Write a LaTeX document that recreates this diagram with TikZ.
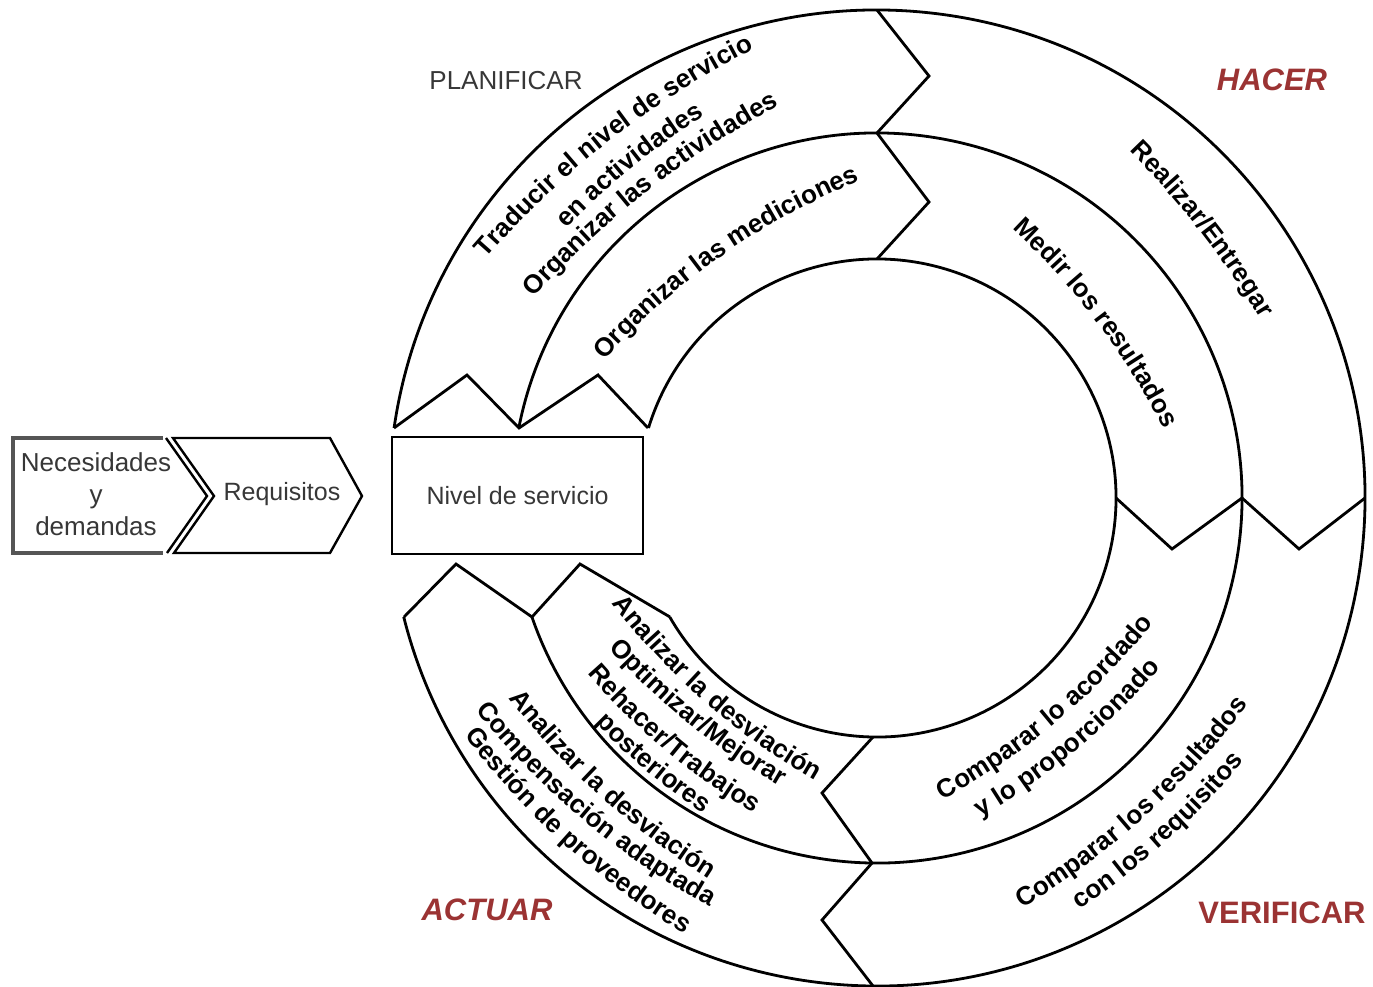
\documentclass[tikz,border=0pt]{standalone}
\usepackage{fontspec}
\setmainfont{Liberation Sans}
\usetikzlibrary{calc,decorations.text}
\definecolor{redlab}{RGB}{155,51,51}
\definecolor{graytxt}{RGB}{55,55,55}
\definecolor{boxgray}{RGB}{85,85,85}
\newcommand\bt{\fontsize{26}{28}\selectfont\bfseries}
% text on an arc bulging outward (tops outward), centre of baseline at (#1,#2) image coords
\newcommand\ttop[5]{%
  \pgfmathsetmacro\myTb{200/#4*57.29578}%
  \pgfmathsetmacro\mySa{#3+90+\myTb}%
  \pgfmathsetmacro\myEa{#3+90-\myTb}%
  \path[decorate,decoration={text along path,text align=center,text={|\bt|#5}}]
    ($(#1,-#2)+({#3-90}:#4)+(\mySa:#4)$) arc[start angle=\mySa, end angle=\myEa, radius=#4];}
% text on an arc with tops inward
\newcommand\tbot[5]{%
  \pgfmathsetmacro\myTb{200/#4*57.29578}%
  \pgfmathsetmacro\mySa{#3-90-\myTb}%
  \pgfmathsetmacro\myEa{#3-90+\myTb}%
  \path[decorate,decoration={text along path,text align=center,text={|\bt|#5}}]
    ($(#1,-#2)+({#3+90}:#4)+(\mySa:#4)$) arc[start angle=\mySa, end angle=\myEa, radius=#4];}
\begin{document}
\begin{tikzpicture}[x=1pt,y=1pt,
  ring/.style={line width=2.8pt, line join=miter},
  lbl/.style={font=\fontsize{26}{28}\selectfont, text=graytxt},
  phase/.style={anchor=base, font=\fontsize{31}{34}\selectfont\bfseries, text=redlab}]
\useasboundingbox (0,0) rectangle (1373,-987);
\fill[white] (0,0) rectangle (1373,-987);
\coordinate (C) at (877,-498);
% concentric arcs
\draw[ring] ($(C)+(171.75:488)$) arc[start angle=171.75, end angle=-165.89, radius=488];
\draw[ring] ($(C)+(168.94:365)$) arc[start angle=168.94, end angle=-160.97, radius=365];
\draw[ring] ($(C)+(162.97:239)$) arc[start angle=162.97, end angle=-150.14, radius=239];
% chevrons
\draw[ring] (877,-10) -- (929,-76) -- (877,-133) -- (929,-202) -- (877,-259);
\draw[ring] (1365,-498) -- (1299,-549) -- (1242,-498) -- (1172,-549) -- (1116,-498);
\draw[ring] (873,-986) -- (822,-920) -- (872,-863) -- (822,-793) -- (873,-737);
\draw[ring] (394,-428) -- (467,-375) -- (519,-428) -- (598,-375) -- (648,-428);
\draw[ring] (404,-617) -- (456,-564) -- (532,-617) -- (580,-564) -- (670,-617);
% left boxes
\draw[line width=2.4pt, line join=miter] (173,-438) -- (330,-438) -- (362,-496) -- (330,-553) -- (174,-553) -- (214,-496) -- cycle;
\draw[line width=2.4pt, line join=miter] (166,-438) -- (207,-496) -- (167,-553);
\draw[line width=3.8pt, draw=boxgray] (163,-438) -- (13,-438) -- (13,-553) -- (163,-553);
\node[lbl, align=center, font=\fontsize{26}{32}\selectfont] (nec) at (96,-494) {Necesidades\\y\\demandas};
\node[lbl, font=\fontsize{25}{28}\selectfont] (req) at (282,-494) {Requisitos};
\node[draw, line width=2.8pt, minimum width=251pt, minimum height=117pt, inner sep=0pt,
  lbl, font=\fontsize{25}{28}\selectfont] (nivel) at (517.5,-495.5) {Nivel de servicio};
% phase labels
\node[lbl, anchor=base] (plan) at (506,-90) {PLANIFICAR};
\node[phase, font=\fontsize{31}{34}\selectfont\bfseries\itshape] (hacer) at (1272,-91) {HACER};
\node[phase, font=\fontsize{31}{34}\selectfont\bfseries\itshape] (actuar) at (487,-920) {ACTUAR};
\node[phase] (verif) at (1282,-923) {VERIFICAR};
% curved texts
\ttop{610}{141}{38}{900}{Traducir el nivel de servicio}
\ttop{632}{168}{39}{700}{en actividades}
\ttop{648}{191}{38}{900}{Organizar las actividades}
\ttop{1200}{231}{-52}{900}{Realizar/Entregar}
\ttop{1097}{322}{-53}{700}{Medir los resultados}
\ttop{722}{256}{35}{700}{Organizar las mediciones}
\tbot{1057}{722}{40}{700}{Comparar lo acordado}
\tbot{1077}{750}{40}{700}{y lo proporcionado}
\tbot{1145}{817}{42}{800}{Comparar los resultados}
\tbot{1167}{841}{42}{800}{con los requisitos}
\tbot{705}{702}{-41}{700}{Analizar la desviación}
\tbot{689}{724}{-39}{700}{Optimizar/Mejorar}
\tbot{665}{750}{-40}{700}{Rehacer/Trabajos}
\tbot{647}{771}{-40}{700}{posteriores}
\tbot{601}{797}{-42}{800}{Analizar la desviación}
\tbot{583}{820}{-40}{800}{Compensación adaptada}
\tbot{565}{845}{-42}{800}{Gestión de proveedores}
\end{tikzpicture}
\end{document}
